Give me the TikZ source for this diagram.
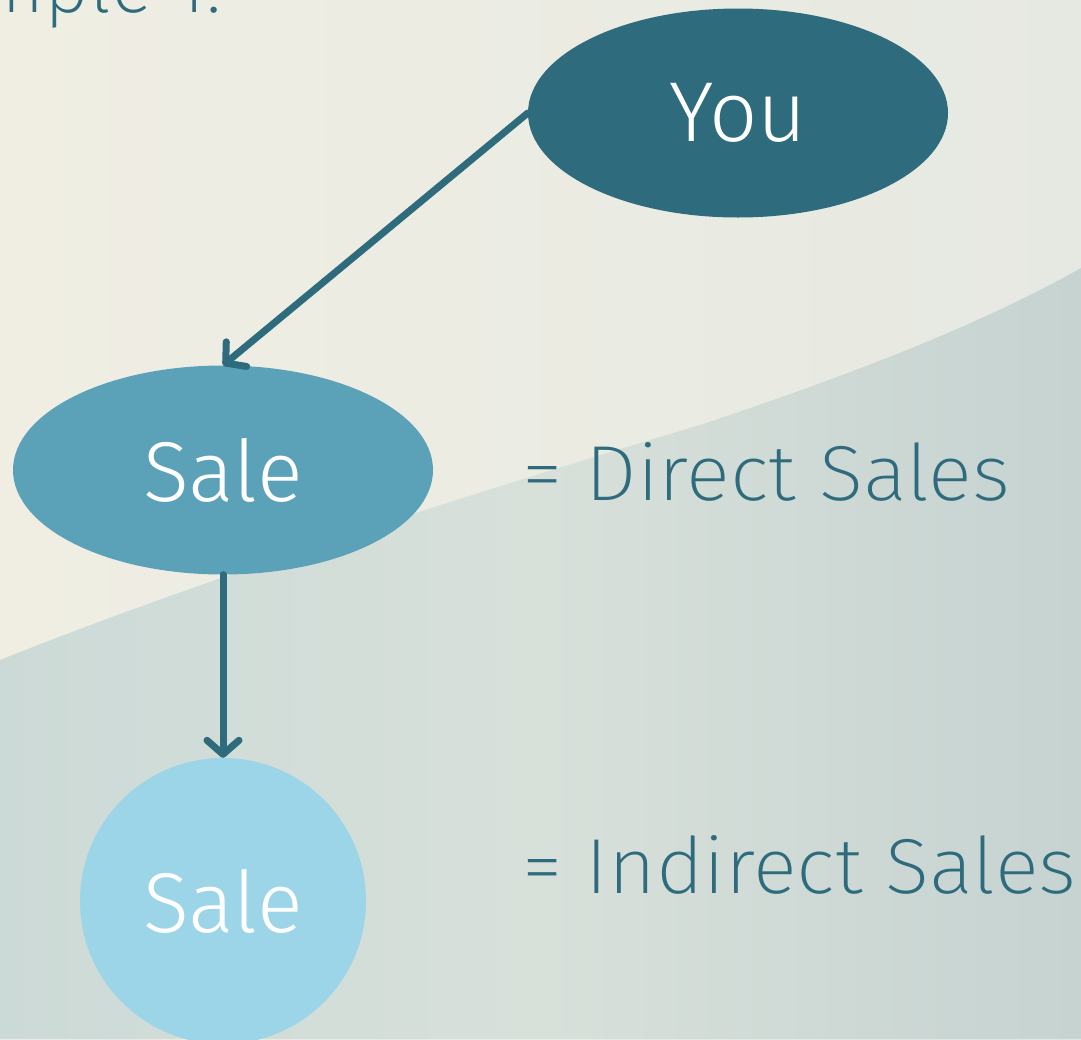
\documentclass[tikz,border=0pt]{standalone}
\usepackage{fontspec}
\setmainfont{Fira Sans Light}
\newfontfamily\thinfont{Fira Sans ExtraLight}
\usepackage{graphicx}
\usetikzlibrary{shapes.geometric,arrows.meta}
\definecolor{dark}{HTML}{2E6B7D}
\definecolor{mid}{HTML}{5BA1B8}
\definecolor{light}{HTML}{9DD5E8}
\definecolor{cream}{HTML}{F0EEE3}
\definecolor{creamR}{HTML}{E6E9E2}
\definecolor{bandL}{HTML}{CCDAD7}
\definecolor{bandM}{HTML}{D8E0DA}
\definecolor{bandR}{HTML}{C6D3D1}
\tikzset{
  bubble/.style={ellipse, inner sep=0pt, text=white, font=\fontsize{85}{90}\selectfont},
  label/.style={text=dark, inner sep=0pt, font=\thinfont\fontsize{78}{80}\selectfont},
  conn/.style={draw=dark, line width=7pt, line cap=round,
    -{Straight Barb[length=14pt,width=32pt,line cap=round,line join=round]}}
}
\begin{document}
\begin{tikzpicture}[x=1pt,y=-1pt]
\useasboundingbox (0,0) rectangle (1081,1039);
\clip (0,0) rectangle (1081,1039);
% background
\shade[left color=cream, right color=creamR] (0,0) rectangle (1081,1039);
\shade[left color=bandL, right color=bandR, middle color=bandM]
  (0,660) .. controls (200,580) and (450,500) .. (700,425)
  .. controls (850,375) and (980,325) .. (1081,268) -- (1081,1039) -- (0,1039) -- cycle;
% nodes
\node[bubble, fill=dark, minimum width=420pt, minimum height=209pt] (you) at (738,113) {You};
\node[bubble, fill=mid, minimum width=420pt, minimum height=209pt] (sale1) at (223,470) {Sale};
\node[bubble, circle, fill=light, minimum size=286pt] (sale2) at (223,901) {Sale};
% labels
\node[label, anchor=base west] (direct) at (522,500) {\scalebox{1.05}[1]{= Direct Sales}};
\node[label, anchor=base west] (indirect) at (522,893) {\scalebox{1.05}[1]{= Indirect Sales}};
\node[label, anchor=base east] (example) at (222,12) {Example 1:};
% connectors
\draw[conn] (you.west) -- (sale1.north);
\draw[conn] (sale1.south) -- (sale2.north);
\end{tikzpicture}
\end{document}
